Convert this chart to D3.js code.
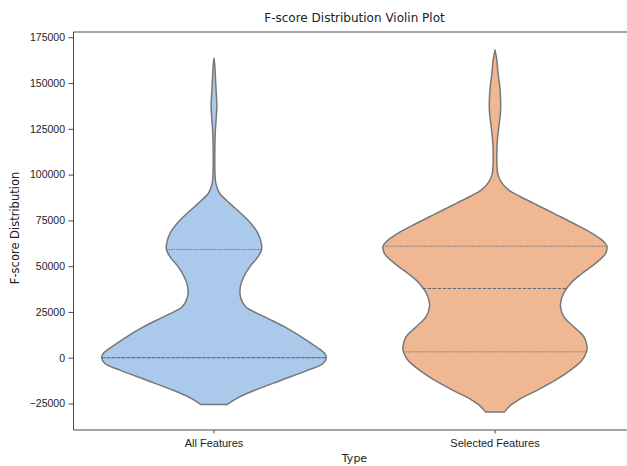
<!DOCTYPE html>
<html>
<head>
<meta charset="utf-8">
<script src="https://cdn.jsdelivr.net/npm/d3@7"></script>
<style>
  html, body { margin: 0; padding: 0; background: #fff; }
  svg { display: block; font-family: "DejaVu Sans", sans-serif; }
</style>
</head>
<body>
<svg id="chart" width="627" height="466"></svg>
<script>
// Categories on the x axis
const categories = ["All Features", "Selected Features"];
const fillColors = ["#abc9ea", "#efb792"];

// Kernel-density outlines: [F-score value, relative density (1 = widest)]
const allFeaturesDensity = [
  [163500, 0], [159800, 0.007], [151600, 0.014], [143400, 0.021], [138000, 0.026],
  [130900, 0.020], [124300, 0.012], [116100, 0.008], [107900, 0.007], [99700, 0.009],
  [95300, 0.016], [92600, 0.029], [89700, 0.051], [84300, 0.140], [78800, 0.240],
  [73300, 0.329], [67900, 0.391], [62400, 0.421], [59100, 0.423], [55100, 0.391],
  [49600, 0.318], [44100, 0.264], [38700, 0.234], [33200, 0.236], [27800, 0.282],
  [22300, 0.451], [16800, 0.629], [11400, 0.777], [5900, 0.910], [2300, 0.985],
  [100, 1.0], [-3200, 0.970], [-6800, 0.836], [-12300, 0.599], [-17800, 0.362],
  [-22300, 0.199], [-25600, 0.116]
];
const selectedFeaturesDensity = [
  [168000, 0], [162700, 0.016], [155400, 0.027], [147800, 0.043], [140700, 0.050],
  [134100, 0.049], [127000, 0.036], [118800, 0.021], [110600, 0.016], [104100, 0.018],
  [99700, 0.027], [95200, 0.064], [91500, 0.123], [87900, 0.227], [84300, 0.345],
  [78800, 0.523], [73300, 0.701], [67900, 0.865], [63300, 0.968], [60900, 0.996],
  [56900, 0.983], [51500, 0.894], [46000, 0.774], [40500, 0.672], [33200, 0.596],
  [27800, 0.583], [22300, 0.614], [16800, 0.703], [11400, 0.792], [5900, 0.819],
  [3200, 0.814], [-1400, 0.774], [-6800, 0.672], [-12300, 0.538], [-17800, 0.374],
  [-22300, 0.227], [-26000, 0.138], [-29600, 0.085]
];

// Quartiles [Q1, median, Q3] of each group
const allFeaturesQuartiles = [0, 0, 59100];
const selectedFeaturesQuartiles = [3200, 37800, 60900];

// Y-axis tick values
const yTicks = [-25000, 0, 25000, 50000, 75000, 100000, 125000, 150000, 175000];

const densities = [allFeaturesDensity, selectedFeaturesDensity];
const quartiles = [allFeaturesQuartiles, selectedFeaturesQuartiles];

const svg = d3.select("#chart");
const plot = { left: 73.5, right: 635.5, top: 32, bottom: 430 };

const x = d3.scaleBand().domain(categories).range([plot.left, plot.right]).padding(0);

// Value extent padded by 5% on both sides
const allVals = densities.flat().map(d => d[0]);
const lo = d3.min(allVals), hi = d3.max(allVals);
const pad = (hi - lo) * 0.05;
const y = d3.scaleLinear().domain([lo - pad, hi + pad]).range([plot.bottom, plot.top]);

const halfWidth = d3.scaleLinear().domain([0, 1]).range([0, x.bandwidth() * 0.4]);

const edge = "#777777";

svg.append("defs").append("clipPath").attr("id", "plotclip")
  .append("rect").attr("x", plot.left).attr("y", plot.top)
  .attr("width", plot.right - plot.left).attr("height", plot.bottom - plot.top);

const g = svg.append("g").attr("clip-path", "url(#plotclip)");

categories.forEach((cat, i) => {
  const cx = x(cat) + x.bandwidth() / 2;
  const dens = densities[i];
  const area = d3.area()
    .y(d => y(d[0]))
    .x0(d => cx - halfWidth(d[1]))
    .x1(d => cx + halfWidth(d[1]))
    .curve(d3.curveCatmullRom.alpha(0.5));

  g.append("path")
    .datum(dens)
    .attr("d", area)
    .attr("fill", fillColors[i])
    .attr("stroke", edge)
    .attr("stroke-width", 1.5)
    .attr("stroke-linejoin", "round");

  // density at a given value, for sizing the quartile lines
  const sorted = dens.slice().sort((a, b) => a[0] - b[0]);
  const densAt = d3.scaleLinear().domain(sorted.map(d => d[0])).range(sorted.map(d => d[1]));

  quartiles[i].forEach((q, k) => {
    const w = halfWidth(densAt(q));
    g.append("line")
      .attr("x1", cx - w).attr("x2", cx + w)
      .attr("y1", y(q)).attr("y2", y(q))
      .attr("stroke", "#626b76")
      .attr("stroke-width", 1)
      .attr("stroke-dasharray", k === 1 ? "3.5,1.5" : "1.2,1.2");
  });
});

// Axes frame
const frame = svg.append("g");
frame.append("line").attr("x1", plot.left).attr("x2", plot.left)
  .attr("y1", plot.top).attr("y2", plot.bottom);
frame.append("line").attr("x1", plot.left).attr("x2", plot.right)
  .attr("y1", plot.bottom).attr("y2", plot.bottom);
frame.append("line").attr("x1", plot.left).attr("x2", plot.right)
  .attr("y1", plot.top).attr("y2", plot.top);
frame.append("line").attr("x1", plot.right).attr("x2", plot.right)
  .attr("y1", plot.top).attr("y2", plot.bottom);
frame.selectAll("line").attr("stroke", "#4a4a4a").attr("stroke-width", 1);

// Y axis
const yAxis = svg.append("g")
  .attr("transform", `translate(${plot.left},0)`)
  .call(d3.axisLeft(y).tickValues(yTicks).tickSize(5).tickPadding(3.5).tickFormat(d3.format("d")));
yAxis.select(".domain").remove();
yAxis.selectAll(".tick line").attr("stroke", "#4a4a4a");
yAxis.selectAll(".tick text").attr("fill", "#222").style("font-size", "10.5px");

// X axis
const xAxis = svg.append("g")
  .attr("transform", `translate(0,${plot.bottom})`)
  .call(d3.axisBottom(x).tickSize(3.5).tickPadding(6));
xAxis.select(".domain").remove();
xAxis.selectAll(".tick line").attr("stroke", "#4a4a4a");
xAxis.selectAll(".tick text").attr("fill", "#222").style("font-size", "11px");

// Title and axis labels
const midX = (plot.left + plot.right) / 2;
svg.append("text")
  .attr("x", midX).attr("y", 22)
  .attr("text-anchor", "middle")
  .attr("fill", "#222")
  .style("font-size", "12px")
  .text("F-score Distribution Violin Plot");

svg.append("text")
  .attr("x", midX).attr("y", 462)
  .attr("text-anchor", "middle")
  .attr("fill", "#222")
  .style("font-size", "11px")
  .text("Type");

svg.append("text")
  .attr("transform", `translate(19,228) rotate(-90)`)
  .attr("text-anchor", "middle")
  .attr("fill", "#222")
  .style("font-size", "11.5px")
  .text("F-score Distribution");
</script>
</body>
</html>
